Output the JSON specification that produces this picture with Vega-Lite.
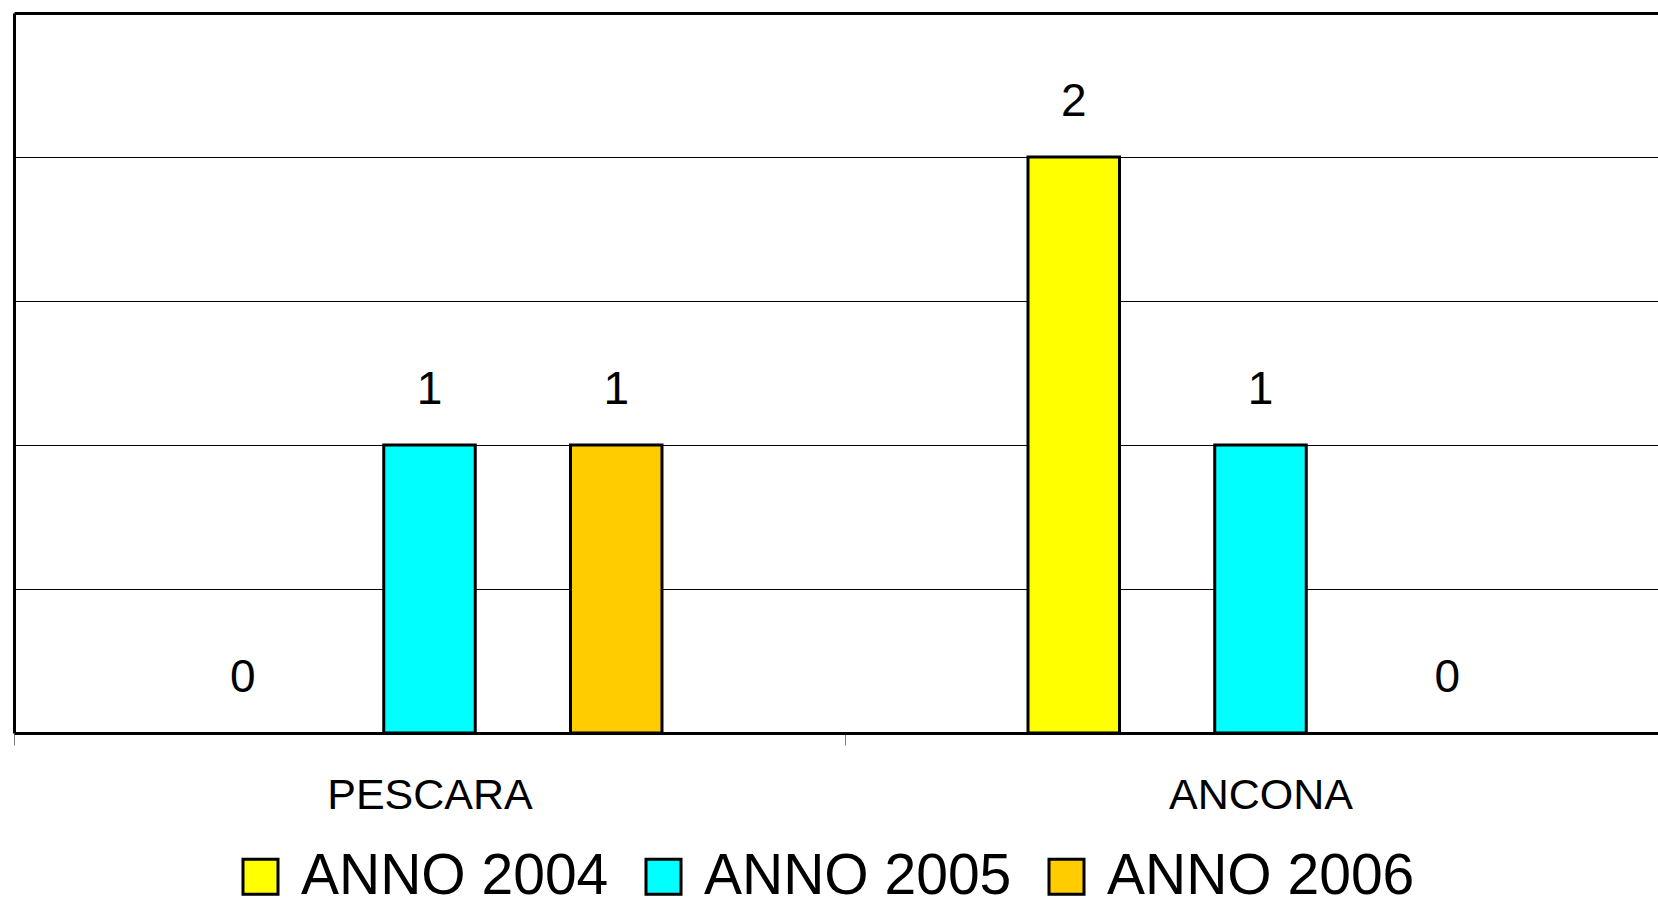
{
  "$schema": "https://vega.github.io/schema/vega-lite/v6.json",
  "width": 1644,
  "height": 720,
  "autosize": {"type": "none"},
  "padding": {"left": 14, "top": 13, "right": 0, "bottom": 174},
  "background": "white",
  "config": {
    "view": {"stroke": null},
    "font": "Liberation Sans"
  },
  "data": {
    "values": [
      {"city": "PESCARA", "year": "ANNO 2004", "value": 0},
      {"city": "PESCARA", "year": "ANNO 2005", "value": 1},
      {"city": "PESCARA", "year": "ANNO 2006", "value": 1},
      {"city": "ANCONA", "year": "ANNO 2004", "value": 2},
      {"city": "ANCONA", "year": "ANNO 2005", "value": 1},
      {"city": "ANCONA", "year": "ANNO 2006", "value": 0}
    ]
  },
  "encoding": {
    "x": {
      "field": "city",
      "type": "nominal",
      "sort": ["PESCARA", "ANCONA"],
      "scale": {"range": [0, 1662], "paddingInner": 0, "paddingOuter": 0},
      "axis": {
        "title": null,
        "labelAngle": 0,
        "labelFont": "Liberation Sans",
        "labelFontSize": 43,
        "labelColor": "black",
        "labelPadding": 29,
        "labelLimit": 0,
        "tickBand": "extent",
        "ticks": true,
        "tickColor": "#808080",
        "tickWidth": 1,
        "tickSize": 12,
        "domain": true,
        "domainColor": "black",
        "domainWidth": 3,
        "grid": false
      }
    },
    "xOffset": {
      "field": "year",
      "type": "nominal",
      "scale": {"paddingInner": 0.51, "paddingOuter": 0.98}
    },
    "y": {
      "field": "value",
      "type": "quantitative",
      "scale": {"domain": [0, 2.5], "nice": false, "zero": true},
      "axis": {
        "title": null,
        "labels": false,
        "ticks": false,
        "domain": true,
        "domainColor": "black",
        "domainWidth": 3,
        "grid": true,
        "gridColor": "black",
        "gridWidth": {"condition": {"test": "datum.value === 2.5", "value": 3}, "value": 1},
        "values": [0.5, 1, 1.5, 2, 2.5]
      }
    }
  },
  "layer": [
    {
      "transform": [{"filter": "datum.value > 0"}],
      "mark": {"type": "bar", "stroke": "black", "strokeWidth": 3},
      "encoding": {
        "color": {
          "field": "year",
          "type": "nominal",
          "scale": {
            "domain": ["ANNO 2004", "ANNO 2005", "ANNO 2006"],
            "range": ["#FFFF00", "#00FFFF", "#FFCC00"]
          },
          "legend": {
            "title": null,
            "orient": "none",
            "direction": "horizontal",
            "legendX": 218,
            "legendY": 835,
            "padding": 0,
            "symbolType": "square",
            "symbolSize": 1225,
            "symbolStrokeColor": "black",
            "symbolStrokeWidth": 3,
            "symbolOpacity": 1,
            "labelFont": "Liberation Sans",
            "labelFontSize": 57,
            "labelColor": "black",
            "labelOffset": 12,
            "columnPadding": 26,
            "labelLimit": 1000
          }
        }
      }
    },
    {
      "mark": {
        "type": "text",
        "dy": -41,
        "baseline": "alphabetic",
        "fontSize": 46,
        "font": "Liberation Sans",
        "color": "black"
      },
      "encoding": {
        "text": {"field": "value", "type": "quantitative"}
      }
    }
  ]
}
